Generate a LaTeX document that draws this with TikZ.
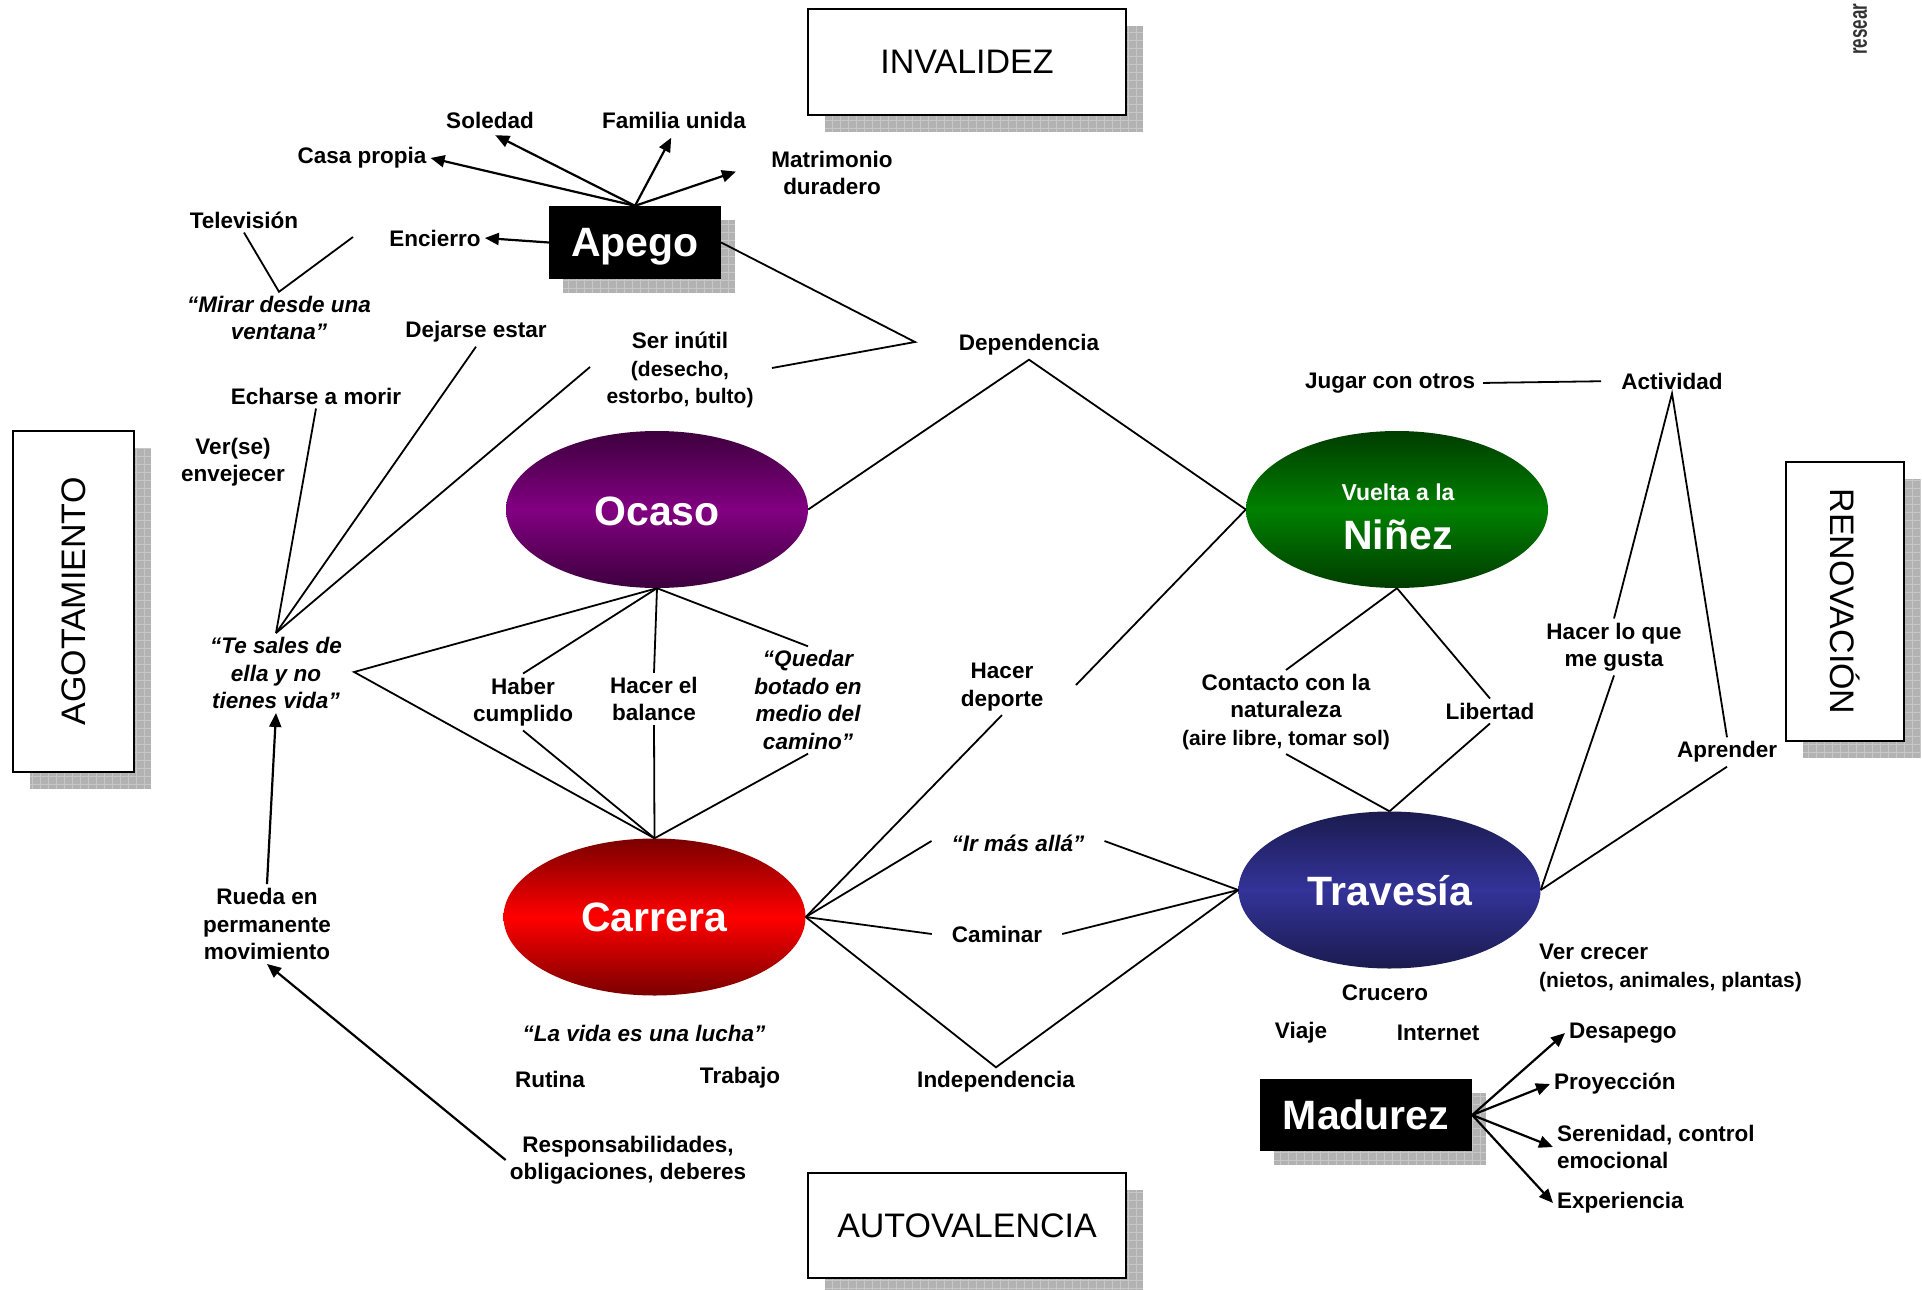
\documentclass[tikz,border=0pt]{standalone}
\usepackage{fontspec}
\setmainfont{Liberation Sans}
\usetikzlibrary{arrows.meta,shapes.geometric,calc}
\definecolor{ocdark}{HTML}{3D003D}
\definecolor{ocmid}{HTML}{820082}
\definecolor{cadark}{HTML}{7A0000}
\definecolor{camid}{HTML}{FF0000}
\definecolor{nidark}{HTML}{003C00}
\definecolor{nimid}{HTML}{008000}
\definecolor{trdark}{HTML}{1B1B4F}
\definecolor{trmid}{HTML}{333399}
\newcommand\smtxt{\fontsize{21}{24}\selectfont}
\newcommand\myshadow[5]{%
  \fill[black!30] ({#1+#5},{#2+#5}) rectangle ({#3+#5},{#4+#5});
  \begin{scope}
    \clip ({#1+#5},{#2+#5}) rectangle ({#3+#5},{#4+#5});
    \draw[white!78!black, line width=0.6pt, step=8pt] ({#1+#5},{#2+#5}) grid ({#3+#5},{#4+#5});
  \end{scope}}
\begin{document}
\begin{tikzpicture}[x=1pt,y=-1pt,
  lbl/.style={font=\fontsize{22.5}{27.5}\selectfont\bfseries, align=center, inner sep=4pt},
  ilbl/.style={lbl, font=\fontsize{22.5}{27.5}\selectfont\bfseries\itshape},
  ln/.style={line width=1.8pt},
  arr/.style={line width=2.2pt, -{Triangle[length=14pt,width=12pt]}},
  big/.style={font=\fontsize{41}{45}\selectfont\bfseries, text=white, inner sep=0pt},
  ttl/.style={draw, line width=2pt, fill=white, font=\fontsize{34}{38}\selectfont, inner sep=0pt},
  oval/.style={ellipse, minimum width=302, minimum height=157, inner sep=0pt},
  blk/.style={fill=black, text=white, font=\fontsize{41}{45}\selectfont\bfseries, inner sep=0pt, text depth=0pt},
]
\useasboundingbox[fill=white] (0,0) rectangle (1922,1290);

% ---- title boxes with shadows
\myshadow{808}{9}{1126}{115}{17}
\node[ttl, minimum width=318, minimum height=106] (invalidez) at (967,62) {INVALIDEZ};
\myshadow{808}{1173}{1126}{1278}{17}
\node[ttl, minimum width=318, minimum height=105] (autoval) at (967,1225.5) {AUTOVALENCIA};
\myshadow{13}{431}{134}{772}{17}
\node[ttl, rotate=90, minimum width=341, minimum height=121] (agot) at (73.5,601.5) {AGOTAMIENTO};
\myshadow{1786}{462}{1904}{741}{17}
\node[ttl, rotate=-90, minimum width=279, minimum height=118] (renov) at (1845,601.5) {RENOVACIÓN};

% ---- black boxes
\myshadow{549}{206}{721}{279}{14}
\node[blk, minimum width=172, minimum height=73] (apego) at (635,242.5) {Apego};
\myshadow{1260}{1079}{1472}{1151}{14}
\node[blk, minimum width=212, minimum height=72] (madurez) at (1366,1115) {Madurez};

% ---- ellipses
\node[oval, top color=ocdark, bottom color=ocdark, middle color=ocmid] (ocaso) at (657,509.5) {};
\node[oval, top color=cadark, bottom color=cadark, middle color=camid] (carrera) at (654.5,917) {};
\node[oval, top color=nidark, bottom color=nidark, middle color=nimid] (ninez) at (1397,509.5) {};
\node[oval, top color=trdark, bottom color=trdark, middle color=trmid] (trav) at (1389.5,890) {};
\node[big] (ocasot) at (657,511) {Ocaso};
\node[big] (carrerat) at (654,917) {Carrera};
\node[big] (travt) at (1390,891) {Travesía};
\node[font=\fontsize{23}{26}\selectfont\bfseries, text=white, inner sep=0pt] (vuelta) at (1398,492) {Vuelta a la};
\node[big] (ninezt) at (1398,535) {Niñez};

% ---- labels
\node[lbl] (soledad) at (490,120) {Soledad};
\node[lbl] (familia) at (674,120) {Familia unida};
\node[lbl] (casa) at (362,158) {Casa propia};
\node[lbl] (matri) at (832,173) {Matrimonio\\duradero};
\node[lbl] (tele) at (244,220) {Televisión};
\node[lbl] (encierro) at (435,238) {Encierro};
\node[ilbl] (mirar) at (279,318) {“Mirar desde una\\ventana”};
\node[lbl] (dejarse) at (476,332) {Dejarse estar};
\node[lbl] (inutil) at (680,370) {Ser inútil\\{\smtxt (desecho,}\\{\smtxt estorbo, bulto)}};
\node[lbl] (echarse) at (316,396) {Echarse a morir};
\node[lbl] (dep) at (1029,345) {Dependencia};
\node[lbl] (jugar) at (1390,383) {Jugar con otros};
\node[lbl] (activ) at (1672,381) {Actividad};
\node[lbl] (verse) at (233,462) {Ver(se)\\envejecer};
\node[ilbl] (tesales) at (276,673) {“Te sales de\\ella y no\\tienes vida”};
\node[lbl] (haber) at (523,702) {Haber\\cumplido};
\node[lbl] (balance) at (654,699) {Hacer el\\balance};
\node[ilbl] (quedar) at (808,700) {“Quedar\\botado en\\medio del\\camino”};
\node[lbl] (deporte) at (1002,687) {Hacer\\deporte};
\node[lbl] (contacto) at (1286,712) {Contacto con la\\naturaleza\\{\smtxt (aire libre, tomar sol)}};
\node[lbl] (libertad) at (1490,711) {Libertad};
\node[lbl] (gusta) at (1614,647) {Hacer lo que\\me gusta};
\node[lbl] (aprender) at (1727,752) {Aprender};
\node[lbl] (rueda) at (267,924) {Rueda en\\permanente\\movimiento};
\node[ilbl] (irmas) at (1018,843) {“Ir más allá”};
\node[lbl] (caminar) at (997,934) {Caminar};
\node[lbl] (indep) at (996,1082) {Independencia};
\node[lbl, align=left, anchor=west] (vercrecer) at (1535,968) {Ver crecer\\{\smtxt (nietos, animales, plantas)}};
\node[lbl] (crucero) at (1385,993) {Crucero};
\node[lbl] (viaje) at (1301,1033) {Viaje};
\node[lbl] (internet) at (1438,1033) {Internet};
\node[ilbl] (lucha) at (644,1033) {“La vida es una lucha”};
\node[lbl] (rutina) at (550,1079) {Rutina};
\node[lbl] (trabajo) at (740,1078) {Trabajo};
\node[lbl] (resp) at (628,1160) {Responsabilidades,\\obligaciones, deberes};
\node[lbl, anchor=west] (desapego) at (1565,1033) {Desapego};
\node[lbl, anchor=west] (proy) at (1550,1084) {Proyección};
\node[lbl, anchor=west, align=left] (seren) at (1553,1147) {Serenidad, control\\emocional};
\node[lbl, anchor=west] (exper) at (1553,1203) {Experiencia};
\node[rotate=90, anchor=west, inner sep=0pt, text=black!80, font=\fontsize{17}{19}\selectfont\bfseries] (resear) at (1860,55) {\scalebox{1}[1.5]{resear}};

% ---- free ends
\coordinate (tvend) at (353,237);
\coordinate (depv) at (915,342);
\coordinate (inutilR) at (772,368);
\coordinate (inutilL) at (590,367);
\coordinate (depR) at (1076,685);
\coordinate (tsv) at ($(tesales.east)+(8,-1)$);

% ---- arrows around Apego
\draw[arr] (apego.north) -- (casa.east);
\draw[arr, shorten >=6pt] (apego.north) -- (soledad.south);
\draw[arr, shorten >=6pt] (apego.north) -- (familia.south);
\draw[arr, shorten >=33pt] (apego.north) -- ($(matri.west)+(0,-12)$);
\draw[arr] (apego.west) -- (encierro.east);
\draw[ln] (tele.south) -- (mirar.north) -- (tvend);
\draw[ln] (apego.east) -- (depv) -- (inutilR);

% ---- Te sales de ella
\draw[ln] (tesales.north) -- (echarse.south);
\draw[ln] (tesales.north) -- (dejarse.south);
\draw[ln] (tesales.north) -- (inutilL);
\draw[ln] (ocaso.south) -- (tsv) -- (carrera.north);
\draw[ln] (ocaso.south) -- (haber.north);
\draw[ln] (haber.south) -- (carrera.north);
\draw[ln] (ocaso.south) -- (balance.north);
\draw[ln] (balance.south) -- (carrera.north);
\draw[ln] (ocaso.south) -- (quedar.north);
\draw[ln] (quedar.south) -- (carrera.north);
\draw[arr] (rueda.north) -- (tesales.south);
\draw[arr] (resp.west) -- (rueda.south);

% ---- centre
\draw[ln] (ocaso.east) -- (dep.south) -- (ninez.west);
\draw[ln] (ninez.west) -- (depR);
\draw[ln] (deporte.south) -- (carrera.east);
\draw[ln] (carrera.east) -- ($(irmas.west)+(-16,-2)$);
\draw[ln] ($(irmas.east)+(16,-2)$) -- (trav.west);
\draw[ln] (carrera.east) -- ($(caminar.west)+(-16,0)$);
\draw[ln] ($(caminar.east)+(16,0)$) -- (trav.west);
\draw[ln] (carrera.east) -- (indep.north) -- (trav.west);

% ---- right side
\draw[ln] (ninez.south) -- (contacto.north);
\draw[ln] (contacto.south) -- (trav.north);
\draw[ln] (ninez.south) -- (libertad.north);
\draw[ln] (libertad.south) -- (trav.north);
\draw[ln] (gusta.north) -- (activ.south) -- (aprender.north);
\draw[ln] (gusta.south) -- (trav.east);
\draw[ln] (aprender.south) -- (trav.east);
\draw[ln, shorten >=16pt, shorten <=4pt] (jugar.east) -- (activ.west);

% ---- Madurez
\draw[arr] (madurez.east) -- (desapego.west);
\draw[arr] (madurez.east) -- (proy.west);
\draw[arr] (madurez.east) -- (seren.west);
\draw[arr] (madurez.east) -- (exper.west);
\end{tikzpicture}
\end{document}
